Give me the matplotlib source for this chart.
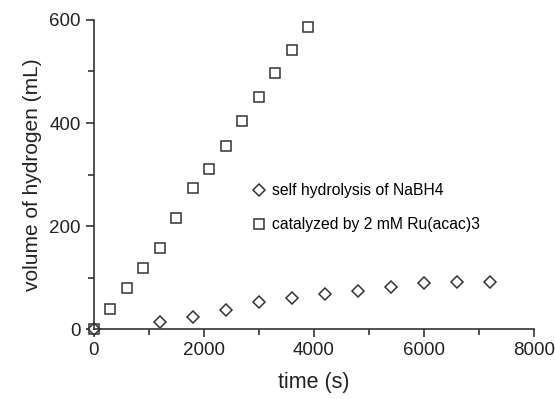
import numpy as np
import matplotlib.pyplot as plt

plt.rcParams['font.family'] = ['Liberation Sans', 'DejaVu Sans']

# self hydrolysis of NaBH4
t_self = [0, 1200, 1800, 2400, 3000, 3600, 4200, 4800, 5400, 6000, 6600, 7200]
v_self = [0, 13, 24, 38, 52, 61, 68, 74, 82, 90, 92, 92]

# catalyzed by 2 mM Ru(acac)3
t_cat = [0, 300, 600, 900, 1200, 1500, 1800, 2100, 2400, 2700, 3000, 3300, 3600, 3900]
v_cat = [0, 39, 79, 118, 158, 215, 273, 311, 355, 403, 450, 497, 542, 586]

fig = plt.figure(figsize=(5.55, 3.99), dpi=100)
ax = fig.add_axes([0.169, 0.175, 0.793, 0.775])

col = '#333333'
ax.plot(t_self, v_self, linestyle='none', marker='D', markersize=6.2,
        markerfacecolor='white', markeredgecolor=col, markeredgewidth=1.1,
        label='self hydrolysis of NaBH4', clip_on=False)
ax.plot(t_cat, v_cat, linestyle='none', marker='s', markersize=7.5,
        markerfacecolor='none', markeredgecolor=col, markeredgewidth=1.1,
        label='catalyzed by 2 mM Ru(acac)3', clip_on=False)

ax.set_xlim(0, 8000)
ax.set_ylim(0, 600)
ax.set_xticks([0, 2000, 4000, 6000, 8000])
ax.set_yticks([0, 200, 400, 600])
ax.set_xticks([1000, 3000, 5000, 7000], minor=True)
ax.set_yticks([100, 300, 500], minor=True)

for s in ['top', 'right']:
    ax.spines[s].set_visible(False)
for s in ['left', 'bottom']:
    ax.spines[s].set_color(col)
    ax.spines[s].set_linewidth(1.2)

ax.tick_params(which='major', length=6, width=1.2, color=col, labelsize=13.5,
               labelcolor='#222222')
ax.tick_params(which='minor', length=4, width=1.2, color=col)

ax.set_xlabel('time (s)', fontsize=15.5, color='#222222', labelpad=9)
ax.set_ylabel('volume of hydrogen (mL)', fontsize=15, color='#222222', labelpad=5)

ax.legend(loc='upper left', bbox_to_anchor=(0.34, 0.497), frameon=False,
          fontsize=11.3, handletextpad=0.3, labelspacing=1.2, borderpad=0,
          handlelength=1.0)

fig.savefig('out.png', dpi=100)
